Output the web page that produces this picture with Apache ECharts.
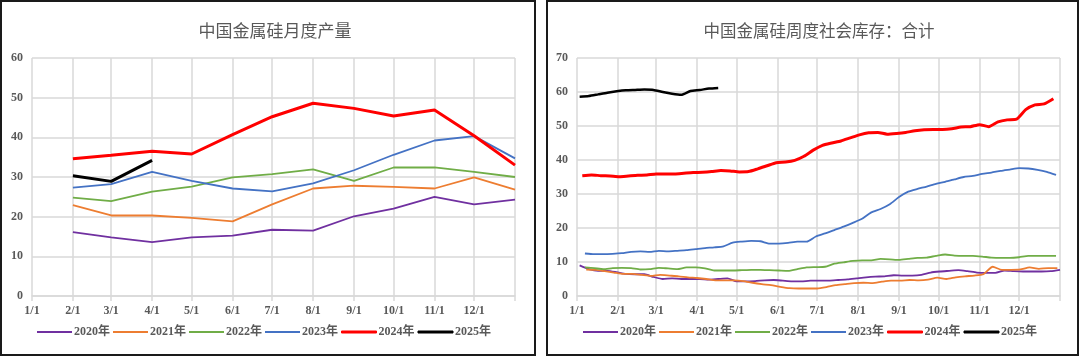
<!DOCTYPE html>
<html><head><meta charset="utf-8">
<script src="https://cdn.jsdelivr.net/npm/echarts@6/dist/echarts.min.js"></script>
<style>html,body{margin:0;padding:0;background:#fff}#c{width:1080px;height:357px}</style>
</head><body><div id="c"></div>
<script>
// ---------- data ----------
const seriesNames = ['2020年','2021年','2022年','2023年','2024年','2025年'];
const seriesColors = ['#7030A0','#ED7D31','#70AD47','#4472C4','#FF0000','#000000'];
const monthTicks = ['1/1','2/1','3/1','4/1','5/1','6/1','7/1','8/1','9/1','10/1','11/1','12/1'];
const yTicksLeft = [0,10,20,30,40,50,60];
const yTicksRight = [0,10,20,30,40,50,60,70];

// monthly production (points dated 2/1 ... 12/1 and the next 1/1)
const prodDates = ['2/1','3/1','4/1','5/1','6/1','7/1','8/1','9/1','10/1','11/1','12/1','1/1+'];
const prod2020 = [16.1,14.8,13.6,14.8,15.2,16.7,16.5,20.1,22.0,25.0,23.1,24.3];
const prod2021 = [22.9,20.3,20.3,19.7,18.8,23.1,27.1,27.8,27.5,27.1,29.9,26.8];
const prod2022 = [24.8,23.9,26.3,27.6,29.9,30.7,31.9,29.0,32.4,32.4,31.3,30.0];
const prod2023 = [27.3,28.2,31.3,29.0,27.1,26.4,28.4,31.7,35.6,39.2,40.3,34.7];
const prod2024 = [34.6,35.5,36.5,35.8,40.7,45.2,48.6,47.3,45.4,46.9,40.4,33.0];
const prod2025 = [30.3,28.9,34.2];

// weekly social inventory (first week date, then one value per week)
const inv2020Start = '1/3';
const inv2020 = [9.0,7.9,7.4,7.4,7.0,6.5,6.4,6.4,5.6,5.0,5.2,5.0,5.0,5.0,4.8,5.0,5.2,4.3,4.3,4.4,4.6,4.7,4.5,4.3,4.3,4.5,4.5,4.5,4.7,4.9,5.2,5.5,5.7,5.8,6.1,6.0,6.0,6.2,6.9,7.2,7.4,7.6,7.3,6.9,6.8,6.8,7.5,7.3,7.2,7.2,7.2,7.3,7.7];
const inv2021Start = '1/8';
const inv2021 = [7.8,7.7,7.3,6.9,6.5,6.5,6.2,5.9,6.2,6.0,5.8,5.5,5.3,5.0,4.6,4.6,4.6,4.4,3.9,3.5,3.2,2.7,2.3,2.2,2.2,2.2,2.6,3.2,3.5,3.8,3.9,3.8,4.2,4.5,4.5,4.7,4.6,4.8,5.4,5.0,5.5,5.8,6.0,6.4,8.6,7.7,7.7,7.8,8.4,8.0,8.2,8.2];
const inv2022Start = '1/7';
const inv2022 = [8.4,8.2,7.9,8.2,8.3,8.2,7.8,7.9,8.3,8.1,7.9,8.4,8.4,8.1,7.5,7.5,7.5,7.6,7.7,7.7,7.6,7.5,7.4,7.9,8.4,8.5,8.6,9.5,9.9,10.3,10.5,10.5,10.9,10.8,10.6,10.9,11.2,11.3,11.8,12.2,11.9,11.8,11.8,11.6,11.3,11.2,11.2,11.4,11.8,11.8,11.8,11.8];
const inv2023Start = '1/7';
const inv2023 = [12.5,12.3,12.3,12.4,12.6,13.0,13.1,13.0,13.3,13.1,13.3,13.5,13.8,14.1,14.3,14.6,15.7,16.0,16.2,16.1,15.4,15.4,15.6,16.0,16.0,17.5,18.4,19.4,20.4,21.5,22.7,24.6,25.6,27.0,29.1,30.7,31.5,32.2,33.0,33.6,34.3,35.0,35.3,35.9,36.3,36.8,37.2,37.6,37.5,37.1,36.5,35.6];
const inv2024Start = '1/5';
const inv2024 = [35.4,35.6,35.4,35.3,35.1,35.3,35.5,35.6,35.9,35.9,35.9,36.1,36.3,36.4,36.6,36.9,36.8,36.5,36.6,37.4,38.3,39.2,39.4,39.9,41.1,42.9,44.3,45.0,45.6,46.5,47.4,48.0,48.1,47.6,47.8,48.1,48.6,48.9,49.0,49.0,49.2,49.7,49.8,50.4,49.8,51.2,51.8,52.0,54.8,56.2,56.5,58.0];
const inv2025Start = '1/3';
const inv2025 = [58.6,58.8,59.3,59.8,60.2,60.5,60.6,60.7,60.6,60.0,59.5,59.2,60.3,60.6,61.0,61.2];

// ---------- day axis (one category per calendar day) ----------
const dayCats = [];
for (let d = 0; d < 366; d++) {
  const dt = new Date(2024, 0, 1 + d);
  dayCats.push((dt.getMonth() + 1) + '/' + dt.getDate());
}
dayCats.push('1/1+');
const dayIdx = s => dayCats.indexOf(s);
const monthIdx = new Set(monthTicks.map(dayIdx));
const gridIdx = new Set([...monthIdx, 366]);

const monthly = vals => vals.map((v, i) => [dayIdx(prodDates[i]), v]);
const weekly = (start, vals) => { const s = dayIdx(start); return vals.map((v, i) => [s + 7 * i, v]); };

const FONT = "'Liberation Serif','Noto Sans CJK SC',serif";
const GRAY = '#595959';
const GRID = '#d9d9d9';

function xAxis(gi) {
  return {
    type: 'category', gridIndex: gi, data: dayCats, boundaryGap: false,
    axisLine: { lineStyle: { color: GRID, width: 1.5 } },
    axisTick: { show: true, length: 5, interval: i => gridIdx.has(i), lineStyle: { color: GRID, width: 1.5 } },
    axisLabel: { interval: i => monthIdx.has(i), color: GRAY, fontFamily: FONT, fontWeight: 'bold', fontSize: 12, margin: 9,
      formatter: v => v },
    splitLine: { show: true, interval: i => gridIdx.has(i), lineStyle: { color: GRID, width: 1.5 } }
  };
}
function yAxis(gi, ticks) {
  return {
    type: 'value', gridIndex: gi, min: ticks[0], max: ticks[ticks.length - 1], interval: ticks[1] - ticks[0],
    axisLine: { show: false }, axisTick: { show: false },
    axisLabel: { color: GRAY, fontFamily: FONT, fontWeight: 'bold', fontSize: 12, margin: 9 },
    splitLine: { lineStyle: { color: GRID, width: 1.5 } }
  };
}
const prodAll = [prod2020, prod2021, prod2022, prod2023, prod2024, prod2025];
const invAll = [[inv2020Start, inv2020], [inv2021Start, inv2021], [inv2022Start, inv2022], [inv2023Start, inv2023], [inv2024Start, inv2024], [inv2025Start, inv2025]];
const leftWidths = [1.8, 1.8, 1.8, 1.8, 3, 3];
const rightWidths = [1.8, 1.8, 1.8, 1.8, 3, 2.5];

const series = [];
prodAll.forEach((vals, k) => series.push({
  name: seriesNames[k], type: 'line', xAxisIndex: 0, yAxisIndex: 0, symbol: 'none',
  color: seriesColors[k], lineStyle: { width: leftWidths[k], color: seriesColors[k] },
  data: monthly(vals), z: 2 + k
}));
invAll.forEach(([st, vals], k) => series.push({
  name: seriesNames[k], type: 'line', xAxisIndex: 1, yAxisIndex: 1, symbol: 'none', smooth: 0.2,
  color: seriesColors[k], lineStyle: { width: rightWidths[k], color: seriesColors[k] },
  data: weekly(st, vals), z: 2 + k
}));

function legend(left) {
  return {
    left: left, top: 326, padding: 0, itemWidth: 35, itemHeight: 2, itemGap: 3, icon: 'rect',
    data: seriesNames.map((n, k) => ({
      name: n,
      itemStyle: k >= 4 ? { color: seriesColors[k], borderColor: seriesColors[k], borderWidth: 1 } : { color: seriesColors[k], borderWidth: 0 }
    })),
    textStyle: { color: GRAY, fontFamily: FONT, fontWeight: 'bold', fontSize: 12, padding: [0, 0, 0, -3] }
  };
}

const chart = echarts.init(document.getElementById('c'), null, { renderer: 'canvas' });
chart.setOption({
  animation: false,
  backgroundColor: '#fff',
  title: [
    { text: '中国金属硅月度产量', left: 270, top: 17, textAlign: 'center',
      textStyle: { fontFamily: "'Noto Sans CJK SC'", fontWeight: 'normal', fontSize: 17, color: GRAY } },
    { text: '中国金属硅周度社会库存：合计', left: 814, top: 17, textAlign: 'center',
      textStyle: { fontFamily: "'Noto Sans CJK SC'", fontWeight: 'normal', fontSize: 16.5, color: GRAY } }
  ],
  legend: [legend(37), legend(583)],
  grid: [
    { left: 32, top: 58, right: 1080 - 515, bottom: 61 },
    { left: 577, top: 58, right: 20, bottom: 61 }
  ],
  xAxis: [xAxis(0), xAxis(1)],
  yAxis: [yAxis(0, yTicksLeft), yAxis(1, yTicksRight)],
  series: series,
  graphic: [
    { type: 'rect', shape: { x: 1, y: 1, width: 534, height: 354 }, style: { fill: null, stroke: '#1a1a1a', lineWidth: 2 }, z: 100 },
    { type: 'rect', shape: { x: 547, y: 1, width: 531, height: 354 }, style: { fill: null, stroke: '#1a1a1a', lineWidth: 2 }, z: 100 }
  ]
});
</script></body></html>
